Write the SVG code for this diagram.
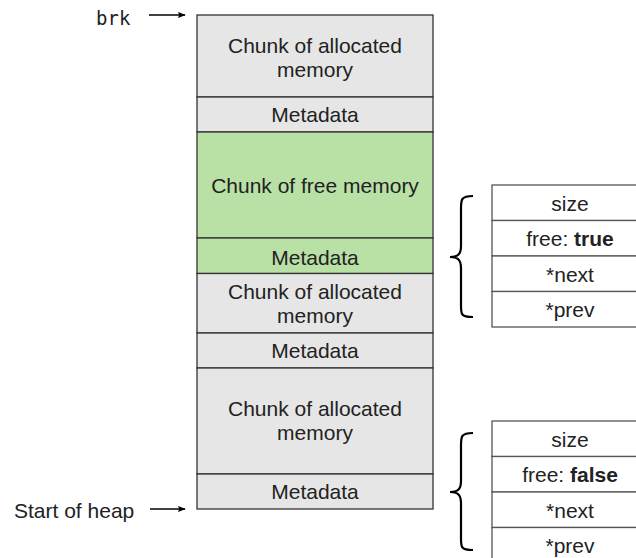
<svg xmlns="http://www.w3.org/2000/svg" width="636" height="558" viewBox="0 0 636 558">
<style>
  .t { font-family: "Liberation Sans", Arial, sans-serif; font-size: 21px; fill: #222; text-anchor: middle; }
  .lbl { font-family: "Liberation Sans", Arial, sans-serif; font-size: 21px; fill: #222; }
  .mono { font-family: "DejaVu Sans Mono", "Liberation Mono", monospace; font-size: 19px; fill: #222; }
  .alloc { fill: #e6e6e6; stroke: #333; stroke-width: 1.3; }
  .free { fill: #b9e0a5; stroke: #333; stroke-width: 1.3; }
  .cell { fill: #ffffff; stroke: #555; stroke-width: 1.3; }
  .arrow { stroke: #000; stroke-width: 1.3; fill: none; marker-end: url(#ah); }
  .brace { stroke: #000; stroke-width: 2.2; fill: none; }
</style>
<defs>
  <marker id="ah" viewBox="0 0 10 10" refX="9" refY="5" markerWidth="8" markerHeight="8" markerUnits="userSpaceOnUse" orient="auto">
    <path d="M0,1 L10,5 L0,9 L2,5 Z" fill="#000"/>
  </marker>
</defs>

<g id="heap">
  <g id="chunk1">
    <rect class="alloc" x="197" y="15" width="236" height="82"/>
    <text class="t" x="315" y="53">Chunk of allocated</text>
    <text class="t" x="315" y="77">memory</text>
  </g>
  <g id="meta1">
    <rect class="alloc" x="197" y="97" width="236" height="35"/>
    <text class="t" x="315" y="122">Metadata</text>
  </g>
  <g id="freechunk">
    <rect class="free" x="197" y="132" width="236" height="106"/>
    <text class="t" x="315" y="193">Chunk of free memory</text>
  </g>
  <g id="meta2">
    <rect class="free" x="197" y="238" width="236" height="35.5"/>
    <text class="t" x="315" y="265">Metadata</text>
  </g>
  <g id="chunk3">
    <rect class="alloc" x="197" y="273.5" width="236" height="59.5"/>
    <text class="t" x="315" y="299">Chunk of allocated</text>
    <text class="t" x="315" y="323">memory</text>
  </g>
  <g id="meta3">
    <rect class="alloc" x="197" y="333" width="236" height="35"/>
    <text class="t" x="315" y="358">Metadata</text>
  </g>
  <g id="chunk4">
    <rect class="alloc" x="197" y="368" width="236" height="106"/>
    <text class="t" x="315" y="416">Chunk of allocated</text>
    <text class="t" x="315" y="440">memory</text>
  </g>
  <g id="meta4">
    <rect class="alloc" x="197" y="474" width="236" height="35"/>
    <text class="t" x="315" y="499">Metadata</text>
  </g>
</g>

<g id="brk-label">
  <text class="mono" x="96" y="25">brk</text>
</g>
<g id="start-label">
  <text class="lbl" x="14" y="518">Start of heap</text>
</g>

<g id="table-free">
  <rect class="cell" x="492" y="185" width="160" height="35.5"/>
  <text class="t" x="570" y="211">size</text>
  <rect class="cell" x="492" y="220.5" width="160" height="35.5"/>
  <text class="t" x="570" y="246">free: <tspan font-weight="bold">true</tspan></text>
  <rect class="cell" x="492" y="256" width="160" height="35.5"/>
  <text class="t" x="570" y="282">*next</text>
  <rect class="cell" x="492" y="291.5" width="160" height="35.5"/>
  <text class="t" x="570" y="317">*prev</text>
</g>

<g id="table-alloc">
  <rect class="cell" x="492" y="421" width="160" height="35.5"/>
  <text class="t" x="570" y="447">size</text>
  <rect class="cell" x="492" y="456.5" width="160" height="35.5"/>
  <text class="t" x="570" y="482">free: <tspan font-weight="bold">false</tspan></text>
  <rect class="cell" x="492" y="492" width="160" height="35.5"/>
  <text class="t" x="570" y="518">*next</text>
  <rect class="cell" x="492" y="527.5" width="160" height="35.5"/>
  <text class="t" x="570" y="553">*prev</text>
</g>

<g id="connectors">
  <line class="arrow" x1="149" y1="15" x2="185" y2="15"/>
  <line class="arrow" x1="150" y1="509" x2="185" y2="509"/>
  <path class="brace" d="M473,196 C460,196 461,200 461,212 L461,246 C461,254 458,257 450,257 C458,257 461,260 461,268 L461,302 C461,314 460,317 473,317"/>
  <path class="brace" d="M473,433 C460,433 461,437 461,449 L461,481 C461,489 458,492 450,492 C458,492 461,495 461,503 L461,535 C461,547 460,550 473,550"/>
</g>
</svg>
